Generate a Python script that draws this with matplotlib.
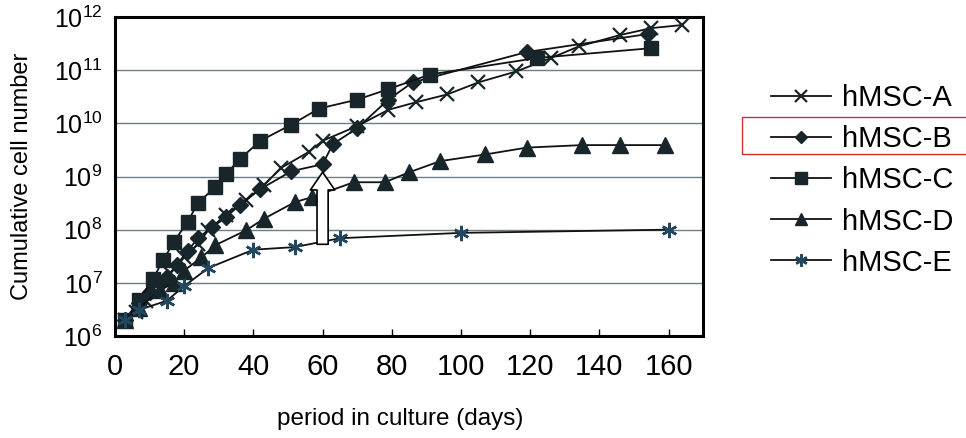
import matplotlib
matplotlib.use("Agg")
import matplotlib.pyplot as plt
from matplotlib.patches import Rectangle

plt.rcParams['font.family'] = ['Liberation Sans', 'DejaVu Sans']
plt.rcParams['mathtext.fontset'] = 'custom'
plt.rcParams['mathtext.rm'] = 'Liberation Sans'
plt.rcParams['mathtext.it'] = 'Liberation Sans'

# cumulative cell counts per strain vs. days in culture
a_days = [3, 6, 9, 13, 16, 20, 24, 27, 32, 38, 43, 48, 56, 60, 70, 79, 87, 96, 105, 116, 126, 134, 146, 155, 164]
a_cells = [2.0e6, 2.8e6, 4.6e6, 7.6e6, 1.5e7, 3.0e7, 5.4e7, 9.8e7, 1.9e8, 3.6e8, 6.9e8, 1.45e9, 2.9e9,
           4.7e9, 8.9e9, 1.8e10, 2.5e10, 3.5e10, 5.9e10, 9.5e10, 1.7e11, 2.8e11, 4.6e11, 6.2e11, 7.1e11]

b_days = [3, 7, 10, 13, 15, 18, 21, 24, 28, 32, 36, 42, 51, 60, 63, 70, 79, 86, 119, 154]
b_cells = [2.0e6, 4.2e6, 6.8e6, 1.0e7, 1.3e7, 2.2e7, 4.0e7, 6.9e7, 1.1e8, 1.7e8, 2.9e8, 5.8e8, 1.26e9,
           1.7e9, 4.1e9, 8.1e9, 2.8e10, 5.9e10, 2.2e11, 4.8e11]

c_days = [3, 7, 11, 14, 17, 21, 24, 29, 32, 36, 42, 51, 59, 70, 79, 91, 122, 155]
c_cells = [2.0e6, 4.8e6, 1.2e7, 2.7e7, 5.9e7, 1.4e8, 3.2e8, 6.3e8, 1.1e9, 2.1e9, 4.7e9, 9.5e9, 1.9e10,
           2.8e10, 4.4e10, 8.3e10, 1.7e11, 2.6e11]

d_days = [3, 7, 13, 17, 20, 25, 29, 38, 43, 52, 57, 69, 78, 85, 94, 107, 119, 135, 146, 159]
d_cells = [2.0e6, 3.4e6, 7.2e6, 1.0e7, 1.7e7, 3.0e7, 5.1e7, 9.8e7, 1.6e8, 3.3e8, 4.1e8, 7.8e8, 7.8e8,
           1.2e9, 1.95e9, 2.6e9, 3.5e9, 3.9e9, 3.9e9, 3.9e9]

e_days = [3, 7, 15, 20, 27, 40, 52, 65, 100, 160]
e_cells = [2.0e6, 3.1e6, 4.6e6, 8.7e6, 1.9e7, 4.2e7, 4.7e7, 6.9e7, 8.7e7, 1.0e8]

labels = ['hMSC-A', 'hMSC-B', 'hMSC-C', 'hMSC-D', 'hMSC-E']
x_ticks = [0, 20, 40, 60, 80, 100, 120, 140, 160]
y_ticks = [1e6, 1e7, 1e8, 1e9, 1e10, 1e11, 1e12]

fig = plt.figure(figsize=(9.66, 4.38), dpi=100)
ax = fig.add_axes([0.119, 0.233, 0.609, 0.728])

mk = '#18262c'
line = '#111111'
ax.plot(a_days, a_cells, color=line, lw=1.3, marker='x', ms=10, mew=1.6, mec=mk, label=labels[0], zorder=3)
ax.plot(b_days, b_cells, color=line, lw=1.3, marker='D', ms=8, mfc=mk, mec=mk, label=labels[1], zorder=3)
ax.plot(c_days, c_cells, color=line, lw=1.3, marker='s', ms=10, mfc=mk, mec=mk, label=labels[2], zorder=3)
ax.plot(d_days, d_cells, color=line, lw=1.3, marker='^', ms=11, mfc=mk, mec=mk, label=labels[3], zorder=3)
ax.plot(e_days, e_cells, color=line, lw=1.3, marker=(6, 2, 0), ms=11, mew=1.8, mec='#23475e',
        label=labels[4], zorder=3)

# hollow arrow pointing at the hMSC-B point at day 60
ax.annotate('', xy=(b_days[13], b_cells[13] * 0.8), xytext=(b_days[13], 4.7e7),
            arrowprops=dict(arrowstyle='simple,head_length=0.8,head_width=1.1,tail_width=0.5',
                            fc='white', ec='black', lw=1.2, mutation_scale=16), zorder=4)

ax.set_yscale('log')
ax.set_xlim(0, 170)
ax.set_ylim(1e6, 1e12)
ax.set_xticks(x_ticks)
ax.set_yticks(y_ticks)
ax.set_yticklabels([r'$10^{%d}$' % i for i in range(6, 13)])
ax.minorticks_off()
ax.tick_params(axis='x', direction='in', length=5, width=1, pad=12, labelsize=21)
ax.tick_params(axis='y', length=0, pad=9, labelsize=18)
ax.yaxis.grid(True, color='#6f7d85', lw=1.0)
ax.set_axisbelow(True)
for s in ax.spines.values():
    s.set_linewidth(2.2)

ax.set_xlabel('period in culture (days)', fontsize=17.5)
ax.xaxis.set_label_coords(0.485, -0.227)
ax.set_ylabel('Cumulative cell number', fontsize=17, labelpad=15)

ax.legend(loc='center left', bbox_to_anchor=(0.7835, 0.588), bbox_transform=fig.transFigure,
          frameon=False, fontsize=21, handlelength=2.05, handletextpad=0.38, labelspacing=0.45,
          borderpad=0, markerscale=0.8)

# red box around the hMSC-B legend entry
fig.patches.append(Rectangle((742 / 966, 1 - 154 / 438), 230 / 966, 37 / 438, transform=fig.transFigure,
                             fill=False, ec='#d03030', lw=1.0))

fig.savefig('out.png', dpi=100)
